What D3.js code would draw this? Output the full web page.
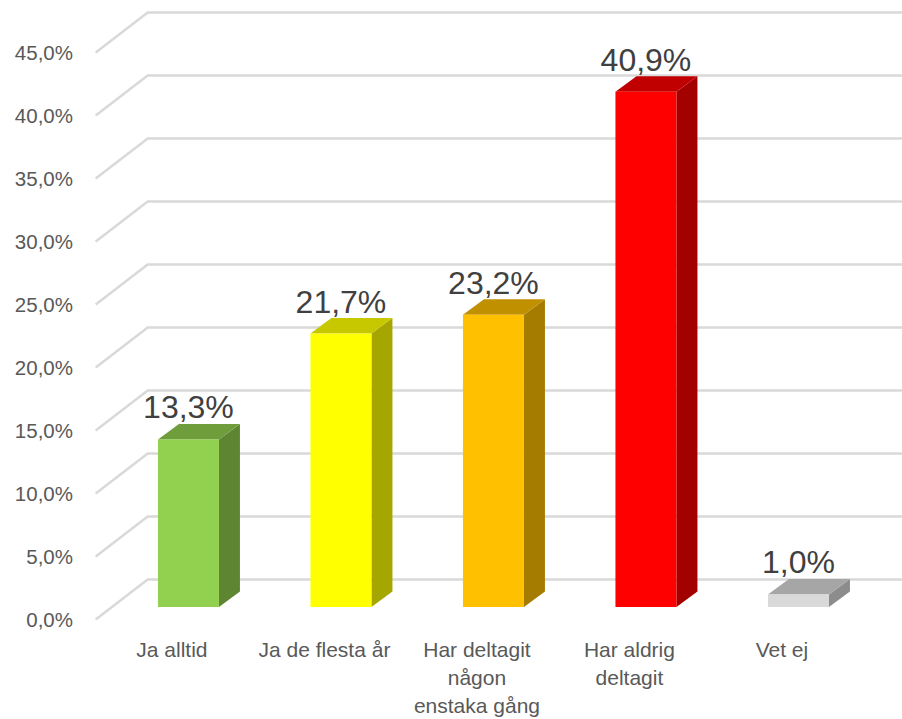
<!DOCTYPE html>
<html>
<head>
<meta charset="utf-8">
<script src="https://cdn.jsdelivr.net/npm/d3@7"></script>
<style>
  html, body { margin: 0; padding: 0; background: #fff; }
  svg { display: block; }
  text { font-family: "Liberation Sans", Arial, sans-serif; }
</style>
</head>
<body>
<svg id="chart" width="902" height="719"></svg>
<script>
// Survey answers (share of respondents, %)
const categories = ["Ja alltid", "Ja de flesta år", "Har deltagit någon enstaka gång", "Har aldrig deltagit", "Vet ej"];
const values = [13.3, 21.7, 23.2, 40.9, 1.0];
const categoryLines = [["Ja alltid"], ["Ja de flesta år"], ["Har deltagit", "någon", "enstaka gång"], ["Har aldrig", "deltagit"], ["Vet ej"]];
const yTicks = [0, 5, 10, 15, 20, 25, 30, 35, 40, 45];

// Face colours for each column: front, top, side
const faceColors = [
  { front: "#92D050", top: "#6F9D3B", side: "#5E8632" },
  { front: "#FFFF00", top: "#C8C800", side: "#A6A600" },
  { front: "#FFC000", top: "#C09000", side: "#A67C00" },
  { front: "#FF0000", top: "#C00000", side: "#A30000" },
  { front: "#D9D9D9", top: "#A6A6A6", side: "#8C8C8C" }
];

const fmt = v => d3.format(".1f")(v).replace(".", ",") + "%";

const svg = d3.select("#chart");
const W = 902;

// Front plane of the 3D box
const x = d3.scaleBand().domain(categories).range([95.7, 858.2]).paddingInner(0.6).paddingOuter(0.3);
const y = d3.scaleLinear().domain([0, 45]).range([619.5, 52.5]);

// Perspective offsets: full wall depth, column front offset, column depth
const wall = { dx: 52, dy: -40 };
const colFront = { dx: 16.5, dy: -12.5 };
const colDepth = { dx: 21, dy: -15.5 };

// Gridlines: diagonal on the side wall, then along the back wall
svg.append("g").selectAll("path").data(yTicks).join("path")
  .attr("d", v => {
    const y0 = y(v);
    return `M${x.range()[0]},${y0} L${x.range()[0] + wall.dx},${y0 + wall.dy} L${W},${y0 + wall.dy}`;
  })
  .attr("fill", "none")
  .attr("stroke", "#D9D9D9")
  .attr("stroke-width", 2.5);

// Y axis tick labels
svg.append("g").selectAll("text").data(yTicks).join("text")
  .attr("x", 73)
  .attr("y", v => y(v))
  .attr("dy", "0.35em")
  .attr("text-anchor", "end")
  .attr("font-size", 20.5)
  .attr("fill", "#595959")
  .text(v => fmt(v));

// Columns
const cols = svg.append("g").selectAll("g").data(categories).join("g");
cols.each(function (c, i) {
  const g = d3.select(this);
  const v = values[i];
  const x0 = x(c) + colFront.dx;
  const x1 = x0 + x.bandwidth();
  const yb = y(0) + colFront.dy;
  const yt = y(v) + colFront.dy;
  const dx = colDepth.dx, dy = colDepth.dy;
  const col = faceColors[i];
  // side face
  g.append("path")
    .attr("d", `M${x1},${yb} L${x1 + dx},${yb + dy} L${x1 + dx},${yt + dy} L${x1},${yt} Z`)
    .attr("fill", col.side);
  // top face
  g.append("path")
    .attr("d", `M${x0},${yt} L${x0 + dx},${yt + dy} L${x1 + dx},${yt + dy} L${x1},${yt} Z`)
    .attr("fill", col.top);
  // front face
  g.append("rect")
    .attr("x", x0).attr("y", yt)
    .attr("width", x.bandwidth()).attr("height", yb - yt)
    .attr("fill", col.front);
  // value label
  g.append("text")
    .attr("x", x0 + x.bandwidth() / 2)
    .attr("y", yt - 21)
    .attr("text-anchor", "middle")
    .attr("font-size", 32)
    .attr("fill", "#404040")
    .text(fmt(v));
});

// Category labels on the front edge
const catG = svg.append("g").selectAll("text").data(categories).join("text")
  .attr("x", c => x(c) + x.bandwidth() / 2)
  .attr("y", 656.5)
  .attr("text-anchor", "middle")
  .attr("font-size", 21)
  .attr("fill", "#595959");
catG.each(function (c, i) {
  d3.select(this).selectAll("tspan").data(categoryLines[i]).join("tspan")
    .attr("x", x(c) + x.bandwidth() / 2)
    .attr("dy", (d, j) => j === 0 ? 0 : 28)
    .text(d => d);
});
</script>
</body>
</html>
